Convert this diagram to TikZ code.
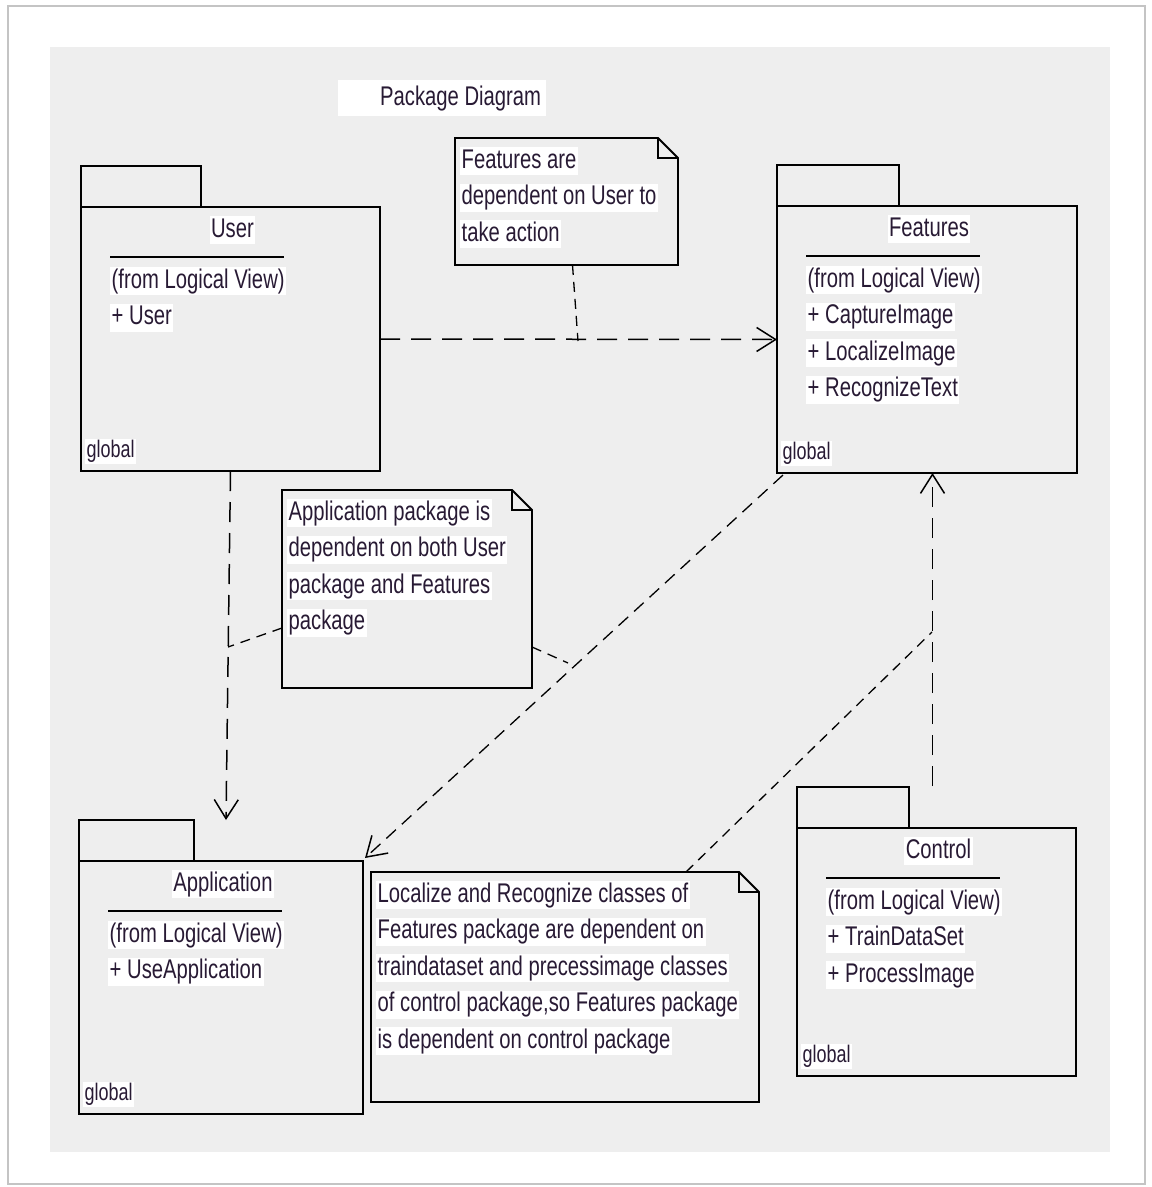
\documentclass[tikz,border=0pt]{standalone}
\usepackage{fontspec}
\newfontfamily\condsans[FakeStretch=0.75]{Liberation Sans}
\usetikzlibrary{arrows.meta}

\definecolor{ink}{RGB}{40,26,52}
\definecolor{canvas}{RGB}{238,238,238}
\definecolor{framegray}{RGB}{196,196,196}

\tikzset{
  pkgline/.style={draw=black, line width=1.9pt},
  pkgbody/.style={draw=black, line width=1.9pt, inner sep=0pt, outer sep=0pt},
  notebody/.style={inner sep=0pt, outer sep=0pt},
  pkgtext/.style={font=\condsans\fontsize{27}{27}\selectfont, text=ink, fill=white,
    inner xsep=1.5pt, inner ysep=1pt, text height=20pt, text depth=6pt, anchor=west},
  globaltext/.style={pkgtext, font=\condsans\fontsize{24}{24}\selectfont,
    text height=18pt, text depth=5pt},
  dep/.style={line width=1.5pt, dash pattern=on 20pt off 11pt,
    -{Straight Barb[length=19pt,width=24pt,line width=1.5pt]}},
  diagdep/.style={dep, line width=1.3pt, dash pattern=on 13pt off 8pt},
  anchorline/.style={line width=1.3pt, dash pattern=on 10pt off 7pt},
}

% UML package: name, NW corner, width, height, tab width, title, contents
\newcommand{\umlpackage}[7]{%
  \node[pkgbody, minimum width=#3, minimum height=#4, anchor=north west] (#1) at #2 {};
  \draw[pkgline] (#1.north west) -- ++(0,-41) -- ++(#5,0) -- ++(0,41);
  \node[pkgtext, anchor=center] (#1-title) at ([xshift=2pt,yshift=-23pt]#1.north) {#6};
  \draw[line width=1.9pt] ([xshift=29pt,yshift=-50pt]#1.north west) -- ++(174,0);
  \foreach \itm [count=\k] in {#7}{
    \node[pkgtext] (#1-item\k) at ([xshift=29pt,yshift={-74pt-(\k-1)*36.5pt}]#1.north west) {\itm};
  }
  \node[globaltext] (#1-scope) at ([xshift=4pt,yshift=20pt]#1.south west) {global};
}

% UML note with a folded corner: name, NW corner, width, height, text lines
\newcommand{\umlnote}[5]{%
  \node[notebody, minimum width=#3, minimum height=#4, anchor=north west] (#1) at #2 {};
  \draw[pkgline, line join=miter] (#1.north west) -- ([xshift=-20pt]#1.north east)
    -- ([yshift=-20pt]#1.north east) -- (#1.south east) -- (#1.south west) -- cycle;
  \draw[line width=1.5pt] ([xshift=-20pt]#1.north east) |- ([yshift=-20pt]#1.north east);
  \foreach \noteline [count=\k] in {#5}{
    \node[pkgtext] (#1-line\k) at ([xshift=5pt,yshift={-23pt-(\k-1)*36.5pt}]#1.north west) {\noteline};
  }
}

\begin{document}
\begin{tikzpicture}[x=1pt,y=-1pt]
  \useasboundingbox (0,0) rectangle (1152,1187);
  % page frame and drawing canvas
  \fill[white] (0,0) rectangle (1152,1187);
  \draw[framegray, line width=1.5pt, fill=white] (8,6) rectangle (1145,1184);
  \fill[canvas] (50,47) rectangle (1110,1152);

  % heading
  \node[pkgtext, inner xsep=0pt, minimum height=36pt]
    (title) at (338,98) {\hspace*{42pt}Package Diagram\hspace*{5pt}};

  % packages
  \umlpackage{user}{(81,207)}{299pt}{264pt}{120}{User}{(from Logical View), + User}
  \umlpackage{feat}{(777,206)}{300pt}{267pt}{122}{Features}
    {(from Logical View), + CaptureImage, + LocalizeImage, + RecognizeText}
  \umlpackage{app}{(79,861)}{284pt}{253pt}{115}{Application}
    {(from Logical View), + UseApplication}
  \umlpackage{ctrl}{(797,828)}{279pt}{248pt}{112}{Control}
    {(from Logical View), + TrainDataSet, + ProcessImage}

  % notes
  \umlnote{note1}{(455,138)}{223pt}{127pt}
    {Features are, dependent on User to, take action}
  \umlnote{note2}{(282,490)}{250pt}{198pt}
    {Application package is, dependent on both User, package and Features, package}
  \umlnote{note3}{(371,872)}{388pt}{230pt}
    {Localize and Recognize classes of, Features package are dependent on,
     traindataset and precessimage classes, {of control package,so Features package},
     is dependent on control package}

  % dependencies
  \draw[dep] (user.east) -- (feat.west);
  \draw[dep] (user.south) -- ([xshift=5pt,yshift=41pt]app.north);
  \draw[diagdep] ([xshift=6pt,yshift=-2pt]feat.south west) -- ([xshift=2pt,yshift=3pt]app.north east);
  \coordinate (ctrltop) at ([xshift=-4pt,yshift=42pt]ctrl.north);
  \draw[dep] (ctrltop) -- (ctrltop |- feat.south);

  % note attachments
  \coordinate (j1) at (578,341);
  \coordinate (j2) at (228,647);
  \coordinate (j3) at (568,663);
  \coordinate (j4) at (932,632);
  \draw[anchorline] ([xshift=6pt]note1.south) -- (j1);
  \draw[anchorline] ([yshift=-39pt]note2.west) -- (j2);
  \draw[anchorline] ([yshift=-58pt]note2.east) -- (j3);
  \draw[anchorline] ([xshift=121pt]note3.north) -- (j4);
\end{tikzpicture}
\end{document}
